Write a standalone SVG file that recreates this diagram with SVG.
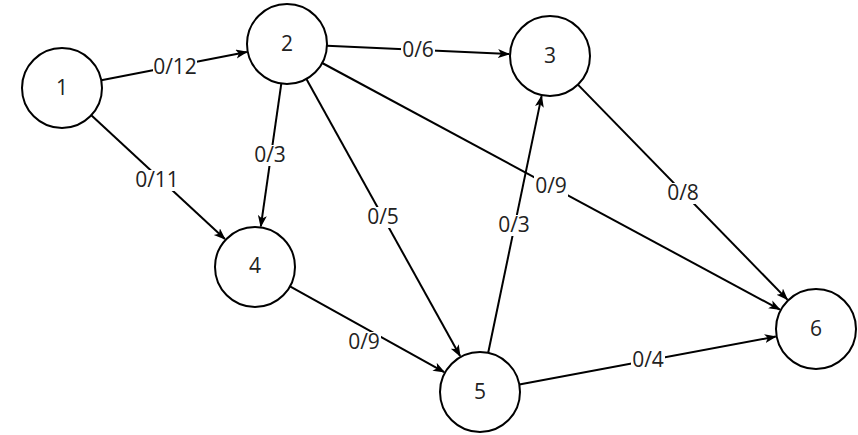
<svg xmlns="http://www.w3.org/2000/svg" width="858" height="435" viewBox="0 0 858 435">
  <style>
    .node circle { fill: #ffffff; stroke: #000000; stroke-width: 2; }
    .node text { font-family: "Open Sans", "Noto Sans", sans-serif; font-size: 21px; fill: #222222; text-anchor: middle; }
    .edge line { stroke: #000000; stroke-width: 2; fill: none; marker-end: url(#arrow); }
    .bg { fill: #ffffff; }
    .lbl { font-family: "Open Sans", "Noto Sans", sans-serif; font-size: 21px; fill: #222222; text-anchor: middle; }
  </style>
  <defs>
    <marker id="arrow" markerUnits="userSpaceOnUse" markerWidth="14" markerHeight="12" refX="11" refY="4.5" orient="auto">
      <path d="M0,0 L12,4.5 L0,9 L3,4.5 Z" fill="#000000"/>
    </marker>
  </defs>
  <rect width="858" height="435" fill="#ffffff"/>
  <g id="connectors">
    <g class="edge" id="e1-2"><line x1="101.3" y1="80.3" x2="246.8" y2="51.9"/></g>
    <g class="edge" id="e1-4"><line x1="91.3" y1="115.2" x2="224.9" y2="239.1"/></g>
    <g class="edge" id="e2-3"><line x1="327" y1="45.8" x2="509" y2="54.1"/></g>
    <g class="edge" id="e2-4"><line x1="281.3" y1="83.6" x2="260.8" y2="226.4"/></g>
    <g class="edge" id="e2-5"><line x1="306.4" y1="79" x2="460.1" y2="356.1"/></g>
    <g class="edge" id="e2-6"><line x1="322.2" y1="63" x2="779.9" y2="309.6"/></g>
    <g class="edge" id="e5-3"><line x1="488.2" y1="352.8" x2="541.6" y2="96.1"/></g>
    <g class="edge" id="e3-6"><line x1="577.9" y1="84.6" x2="787.4" y2="299.6"/></g>
    <g class="edge" id="e4-5"><line x1="290" y1="286.4" x2="444.2" y2="372.1"/></g>
    <g class="edge" id="e5-6"><line x1="519.3" y1="384.6" x2="775.7" y2="336.6"/></g>
    <rect class="bg" x="153" y="57" width="44" height="21"/>
    <rect class="bg" x="135" y="170" width="44" height="21"/>
    <rect class="bg" x="401" y="40" width="34" height="21"/>
    <rect class="bg" x="253" y="145" width="34" height="21"/>
    <rect class="bg" x="366" y="207" width="34" height="21"/>
    <rect class="bg" x="534" y="176" width="34" height="21"/>
    <rect class="bg" x="666" y="183" width="34" height="21"/>
    <rect class="bg" x="497" y="215" width="34" height="21"/>
    <rect class="bg" x="347" y="332" width="34" height="21"/>
    <rect class="bg" x="631" y="350" width="34" height="21"/>
    <text class="lbl" x="175" y="74">0/12</text>
    <text class="lbl" x="157" y="187">0/11</text>
    <text class="lbl" x="418" y="57">0/6</text>
    <text class="lbl" x="270" y="162">0/3</text>
    <text class="lbl" x="383" y="224">0/5</text>
    <text class="lbl" x="551" y="193">0/9</text>
    <text class="lbl" x="683" y="200">0/8</text>
    <text class="lbl" x="514" y="232">0/3</text>
    <text class="lbl" x="364" y="349">0/9</text>
    <text class="lbl" x="648" y="367">0/4</text>
  </g>
  <g class="node" id="n1"><circle cx="62" cy="88" r="40"/><text x="62" y="95">1</text></g>
  <g class="node" id="n2"><circle cx="287" cy="44" r="40"/><text x="287" y="51">2</text></g>
  <g class="node" id="n3"><circle cx="550" cy="56" r="40"/><text x="550" y="63">3</text></g>
  <g class="node" id="n4"><circle cx="255" cy="267" r="40"/><text x="255" y="273">4</text></g>
  <g class="node" id="n5"><circle cx="480" cy="392" r="40"/><text x="480" y="399">5</text></g>
  <g class="node" id="n6"><circle cx="816" cy="329" r="40"/><text x="816" y="336">6</text></g>
</svg>
